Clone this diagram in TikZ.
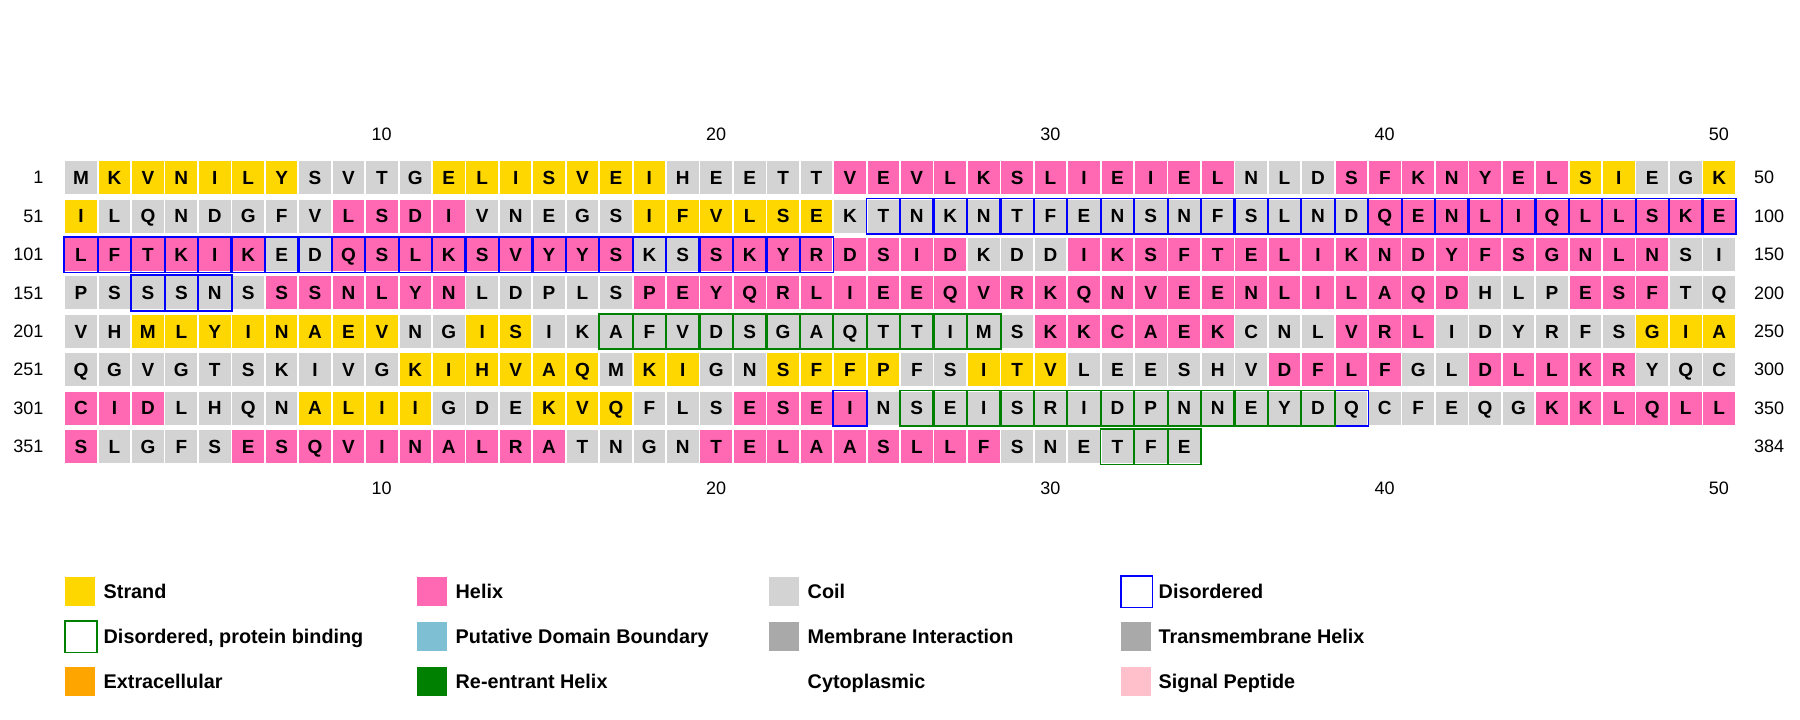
\documentclass[tikz,border=0pt]{standalone}
\usepackage{fontspec}
\setmainfont{Liberation Sans}
\definecolor{colS}{HTML}{FFD700}
\definecolor{colH}{HTML}{FF69B4}
\definecolor{colC}{HTML}{D3D3D3}
\definecolor{disblue}{HTML}{0000FF}
\definecolor{disgreen}{HTML}{008000}
\definecolor{pdbcol}{HTML}{7FBFD4}
\definecolor{memcol}{HTML}{A9A9A9}
\definecolor{extcol}{HTML}{FFA500}
\definecolor{sigcol}{HTML}{FFC0CB}
\tikzset{
  cell/.style={rectangle, anchor=north west, minimum width=31.7pt, minimum height=33pt,
    inner sep=0pt, text height=13.6pt, text depth=0pt,
    font=\fontsize{19}{22}\selectfont\bfseries},
  disb/.style={draw=disblue, line width=1.8pt},
  disg/.style={draw=disgreen, line width=1.8pt},
  numlbl/.style={inner sep=0pt, text height=12.9pt, text depth=0pt,
    font=\fontsize{18}{21}\selectfont},
  lsq/.style={rectangle, anchor=west, minimum width=30pt, minimum height=29.5pt, inner sep=0pt},
  lbox/.style={rectangle, anchor=west, minimum width=31.5pt, minimum height=31.5pt,
    inner sep=0pt, fill=white, line width=1.8pt},
  ltxt/.style={anchor=west, inner sep=0pt, text height=14.2pt, text depth=0pt,
    font=\fontsize{19.8}{23}\selectfont\bfseries}
}
\newcommand\seqrow[2]{%
  \foreach \myaa/\mycl [count=\myci] in {#2} {%
    \pgfmathtruncatemacro\mynn{#1*50+\myci}%
    \node[cell, fill=col\mycl] (r\mynn) at ({65+(\myci-1)*33.43},{161+#1*38.4}) {\myaa};
  }}
\newcommand\outl[2]{%
  \draw[#1] ([xshift=-0.8pt,yshift=1pt]r#2.north west) rectangle ([xshift=1pt,yshift=-1.3pt]r#2.south east);}
\begin{document}
\begin{tikzpicture}[x=1pt,y=-1pt]
\useasboundingbox[fill=white] (0,0) rectangle (1800,720);

\seqrow{0}{M/C,K/S,V/S,N/S,I/S,L/S,Y/S,S/C,V/C,T/C,G/C,E/S,L/S,I/S,S/S,V/S,E/S,I/S,H/C,E/C,E/C,T/C,T/C,V/H,E/H,V/H,L/H,K/H,S/H,L/H,I/H,E/H,I/H,E/H,L/H,N/C,L/C,D/C,S/H,F/H,K/H,N/H,Y/H,E/H,L/H,S/S,I/S,E/C,G/C,K/S}
\seqrow{1}{I/S,L/C,Q/C,N/C,D/C,G/C,F/C,V/C,L/H,S/H,D/H,I/H,V/C,N/C,E/C,G/C,S/C,I/S,F/S,V/S,L/S,S/S,E/S,K/C,T/C,N/C,K/C,N/C,T/C,F/C,E/C,N/C,S/C,N/C,F/C,S/C,L/C,N/C,D/C,Q/H,E/H,N/H,L/H,I/H,Q/H,L/H,L/H,S/H,K/H,E/H}
\seqrow{2}{L/H,F/H,T/H,K/H,I/H,K/H,E/C,D/C,Q/H,S/H,L/H,K/H,S/H,V/H,Y/H,Y/H,S/H,K/C,S/C,S/H,K/H,Y/H,R/H,D/H,S/H,I/H,D/H,K/C,D/C,D/C,I/H,K/H,S/H,F/H,T/H,E/H,L/H,I/H,K/H,N/H,D/H,Y/H,F/H,S/H,G/H,N/H,L/H,N/H,S/C,I/C}
\seqrow{3}{P/C,S/C,S/C,S/C,N/C,S/C,S/H,S/H,N/H,L/H,Y/H,N/H,L/C,D/C,P/C,L/C,S/C,P/H,E/H,Y/H,Q/H,R/H,L/H,I/H,E/H,E/H,Q/H,V/H,R/H,K/H,Q/H,N/H,V/H,E/H,E/H,N/H,L/H,I/H,L/H,A/H,Q/H,D/H,H/C,L/C,P/C,E/H,S/H,F/H,T/C,Q/C}
\seqrow{4}{V/C,H/C,M/S,L/S,Y/S,I/S,N/S,A/S,E/S,V/S,N/C,G/C,I/S,S/S,I/C,K/C,A/C,F/C,V/C,D/C,S/C,G/C,A/C,Q/C,T/C,T/C,I/C,M/C,S/C,K/H,K/H,C/H,A/H,E/H,K/H,C/C,N/C,L/C,V/H,R/H,L/H,I/C,D/C,Y/C,R/C,F/C,S/C,G/S,I/S,A/S}
\seqrow{5}{Q/C,G/C,V/C,G/C,T/C,S/C,K/C,I/C,V/C,G/C,K/S,I/S,H/S,V/S,A/S,Q/S,M/C,K/S,I/S,G/C,N/C,S/S,F/S,F/S,P/S,F/C,S/C,I/S,T/S,V/S,L/C,E/C,E/C,S/C,H/C,V/C,D/H,F/H,L/H,F/H,G/C,L/C,D/H,L/H,L/H,K/H,R/H,Y/C,Q/C,C/C}
\seqrow{6}{C/H,I/H,D/H,L/C,H/C,Q/C,N/C,A/S,L/S,I/S,I/S,G/C,D/C,E/C,K/S,V/S,Q/S,F/C,L/C,S/C,E/H,S/H,E/H,I/H,N/C,S/C,E/C,I/C,S/C,R/C,I/C,D/C,P/C,N/C,N/C,E/C,Y/C,D/C,Q/C,C/C,F/C,E/C,Q/C,G/C,K/H,K/H,L/H,Q/H,L/H,L/H}
\seqrow{7}{S/H,L/C,G/C,F/C,S/C,E/H,S/H,Q/H,V/H,I/H,N/H,A/H,L/H,R/H,A/H,T/C,N/C,G/C,N/C,T/H,E/H,L/H,A/H,A/H,S/H,L/H,L/H,F/H,S/C,N/C,E/C,T/C,F/C,E/C}

% disordered (blue) outlines
\foreach \k in {75,...,123} {\outl{disb}{\k}}
\foreach \k in {153,154,155,324,339} {\outl{disb}{\k}}
% disordered, protein binding (green) outlines
\foreach \k in {217,...,228} {\outl{disg}{\k}}
\foreach \k in {326,...,338} {\outl{disg}{\k}}
\foreach \k in {382,383,384} {\outl{disg}{\k}}

% row labels
\foreach \r/\lab/\rlab in {0/1/50,1/51/100,2/101/150,3/151/200,4/201/250,5/251/300,6/301/350,7/351/384} {
  \node[numlbl, anchor=east] (L\r) at (43.5,{161+\r*38.4+16.5}) {\lab};
  \node[numlbl, anchor=west] (R\r) at (1754,{161+\r*38.4+16.5}) {\rlab};
}
% column numbers
\foreach \k in {10,20,30,40,50} {
  \node[numlbl] (T\k) at ({65+(\k-1)*33.43+15.85},133.7) {\k};
  \node[numlbl] (B\k) at ({65+(\k-1)*33.43+15.85},488.3) {\k};
}

% legend
\node[lsq, fill=colS] (lg1) at (65,591.7) {};
\node[ltxt] (lt1) at (103.5,591.7) {Strand};
\node[lsq, fill=colH] (lg2) at (417,591.7) {};
\node[ltxt] (lt2) at (455.5,591.7) {Helix};
\node[lsq, fill=colC] (lg3) at (769,591.7) {};
\node[ltxt] (lt3) at (807.5,591.7) {Coil};
\node[lbox, draw=disblue] (lg4) at (1120,591.7) {};
\node[ltxt] (lt4) at (1158.5,591.7) {Disordered};

\node[lbox, draw=disgreen] (lg5) at (64.2,636.7) {};
\node[ltxt] (lt5) at (103.5,636.7) {Disordered, protein binding};
\node[lsq, fill=pdbcol] (lg6) at (417,636.7) {};
\node[ltxt] (lt6) at (455.5,636.7) {Putative Domain Boundary};
\node[lsq, fill=memcol] (lg7) at (769,636.7) {};
\node[ltxt] (lt7) at (807.5,636.7) {Membrane Interaction};
\node[lsq, fill=memcol] (lg8) at (1121,636.7) {};
\node[ltxt] (lt8) at (1158.5,636.7) {Transmembrane Helix};

\node[lsq, fill=extcol] (lg9) at (65,681.7) {};
\node[ltxt] (lt9) at (103.5,681.7) {Extracellular};
\node[lsq, fill=disgreen] (lg10) at (417,681.7) {};
\node[ltxt] (lt10) at (455.5,681.7) {Re-entrant Helix};
\node[ltxt] (lt11) at (807.5,681.7) {Cytoplasmic};
\node[lsq, fill=sigcol] (lg12) at (1121,681.7) {};
\node[ltxt] (lt12) at (1158.5,681.7) {Signal Peptide};
\end{tikzpicture}
\end{document}
